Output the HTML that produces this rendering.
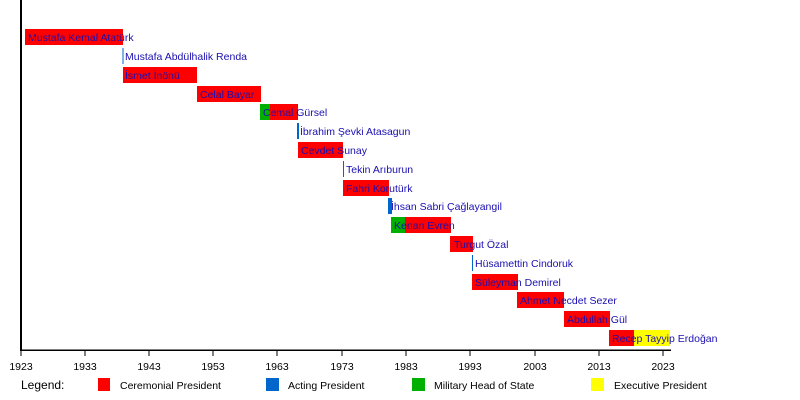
<!DOCTYPE html>
<html><head><meta charset="utf-8"><style>
html,body{margin:0;padding:0;background:#fff;width:800px;height:400px;overflow:hidden}
svg text{font-family:"Liberation Sans",sans-serif;font-size:10.5px}
.n{fill:#1a0fb0}
.t{fill:#000;font-size:10.5px}
</style></head><body>
<svg width="800" height="400" xmlns="http://www.w3.org/2000/svg">
<g shape-rendering="crispEdges">
<rect x="25" y="29" width="98" height="16" fill="#ff0000"/>
<rect x="122.5" y="48" width="1" height="16" fill="#0066cc"/>
<rect x="123" y="67" width="74" height="16" fill="#ff0000"/>
<rect x="197" y="86" width="64" height="16" fill="#ff0000"/>
<rect x="260" y="104" width="10" height="16" fill="#00b000"/>
<rect x="270" y="104" width="28" height="16" fill="#ff0000"/>
<rect x="297" y="123" width="2" height="16" fill="#0066cc"/>
<rect x="298" y="142" width="45" height="16" fill="#ff0000"/>
<rect x="343" y="161" width="1" height="16" fill="#0066cc"/>
<rect x="343" y="180" width="46" height="16" fill="#ff0000"/>
<rect x="388" y="198" width="4" height="16" fill="#0066cc"/>
<rect x="391" y="217" width="15" height="16" fill="#00b000"/>
<rect x="405" y="217" width="46" height="16" fill="#ff0000"/>
<rect x="450" y="236" width="23" height="16" fill="#ff0000"/>
<rect x="472" y="255" width="1" height="16" fill="#0066cc"/>
<rect x="472" y="274" width="46" height="16" fill="#ff0000"/>
<rect x="517" y="292" width="47" height="16" fill="#ff0000"/>
<rect x="564" y="311" width="46" height="16" fill="#ff0000"/>
<rect x="609" y="330" width="25" height="16" fill="#ff0000"/>
<rect x="634" y="330" width="36" height="16" fill="#ffff00"/>
<rect x="20" y="0" width="2" height="351" fill="#000"/>
<rect x="20" y="349.5" width="651" height="1.5" fill="#000"/>
</g>
<g class="n">
<text x="28" y="41">Mustafa Kemal Atatürk</text>
<text x="125" y="60">Mustafa Abdülhalik Renda</text>
<text x="125" y="79">İsmet İnönü</text>
<text x="200" y="98">Celal Bayar</text>
<text x="263" y="116">Cemal Gürsel</text>
<text x="300" y="135">İbrahim Şevki Atasagun</text>
<text x="301" y="154">Cevdet Sunay</text>
<text x="346" y="173">Tekin Arıburun</text>
<text x="346" y="192">Fahri Korutürk</text>
<text x="391" y="210">İhsan Sabri Çağlayangil</text>
<text x="394" y="229">Kenan Evren</text>
<text x="454" y="248">Turgut Özal</text>
<text x="475" y="267">Hüsamettin Cindoruk</text>
<text x="475" y="286">Süleyman Demirel</text>
<text x="520" y="304">Ahmet Necdet Sezer</text>
<text x="567" y="323">Abdullah Gül</text>
<text x="612" y="342">Recep Tayyip Erdoğan</text>
</g>
<g stroke="#000" stroke-width="1.2" shape-rendering="crispEdges">
<line x1="21" y1="350" x2="21" y2="356"/><line x1="85" y1="350" x2="85" y2="356"/>
<line x1="149" y1="350" x2="149" y2="356"/><line x1="213" y1="350" x2="213" y2="356"/>
<line x1="277" y1="350" x2="277" y2="356"/><line x1="342" y1="350" x2="342" y2="356"/>
<line x1="406" y1="350" x2="406" y2="356"/><line x1="470" y1="350" x2="470" y2="356"/>
<line x1="535" y1="350" x2="535" y2="356"/><line x1="599" y1="350" x2="599" y2="356"/>
<line x1="663" y1="350" x2="663" y2="356"/>
</g>
<g class="t" text-anchor="middle">
<text x="21" y="370">1923</text><text x="85" y="370">1933</text><text x="149" y="370">1943</text>
<text x="213" y="370">1953</text><text x="277" y="370">1963</text><text x="342" y="370">1973</text>
<text x="406" y="370">1983</text><text x="470" y="370">1993</text><text x="535" y="370">2003</text>
<text x="599" y="370">2013</text><text x="663" y="370">2023</text>
</g>
<text x="21" y="389" style="font-size:12px" fill="#000">Legend:</text>
<rect x="98" y="378" width="12" height="13" fill="#ff0000"/>
<text x="120" y="389" fill="#000">Ceremonial President</text>
<rect x="266" y="378" width="13" height="13" fill="#0066cc"/>
<text x="288" y="389" fill="#000">Acting President</text>
<rect x="412" y="378" width="13" height="13" fill="#00b000"/>
<text x="434" y="389" fill="#000">Military Head of State</text>
<rect x="591" y="378" width="13" height="13" fill="#ffff00"/>
<text x="614" y="389" fill="#000">Executive President</text>
</svg>
</body></html>
